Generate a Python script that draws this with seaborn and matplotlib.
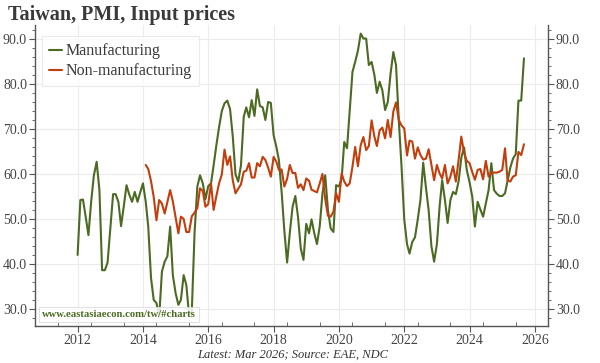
import numpy as np
import pandas as pd
import matplotlib
matplotlib.use("Agg")
import matplotlib.pyplot as plt
import matplotlib.dates as mdates
from matplotlib.ticker import MultipleLocator, FormatStrFormatter
import seaborn as sns

# --- Taiwan PMI input prices, monthly ----------------------------------------
MFG_START = "2012-01-01"
MANUFACTURING = [
    42.1, 54.3, 54.4, 50.5, 46.5, 54.0, 59.8, 62.8, 56.5, 38.7, 38.7, 40.4,  # 2012
    48.0, 55.6, 55.6, 53.9, 48.5, 53.0, 57.6, 55.5, 53.9, 56.1, 53.9, 56.0,  # 2013
    58.0, 53.9, 48.4, 37.0, 32.1, 31.4, 28.2, 38.4, 40.6, 41.8, 48.4, 37.6,  # 2014
    33.6, 31.0, 32.1, 37.6, 35.4, 28.6, 29.5, 47.0, 57.3, 59.8, 58.0, 54.5,  # 2015
    57.4, 58.0, 62.0, 66.5, 70.5, 74.1, 75.8, 76.4, 74.5, 68.5, 60.0, 58.4,  # 2016
    62.0, 72.8, 74.9, 72.7, 76.5, 73.0, 78.9, 75.2, 74.9, 72.1, 76.1, 75.9,  # 2017
    68.7, 66.1, 63.2, 56.0, 47.5, 40.4, 47.0, 52.8, 55.2, 50.5, 43.5, 41.0,  # 2018
    49.0, 46.9, 50.0, 46.9, 44.5, 48.5, 55.7, 59.8, 52.0, 48.0, 47.2, 57.6,  # 2019
    57.3, 59.1, 67.2, 65.8, 74.3, 82.8, 85.0, 87.5, 91.3, 90.2, 90.2, 84.3,  # 2020
    85.0, 82.1, 78.1, 80.6, 78.7, 74.3, 76.1, 82.4, 87.2, 84.3, 72.0, 62.0,  # 2021
    50.0, 44.5, 42.4, 45.0, 46.0, 50.0, 54.3, 62.6, 57.0, 52.0, 44.0, 40.6,  # 2022
    44.5, 53.0, 58.7, 54.3, 49.2, 54.3, 56.1, 55.6, 58.5, 63.7, 66.0, 61.0,  # 2023
    58.3, 55.0, 48.4, 53.9, 52.2, 50.6, 53.5, 56.5, 62.5, 56.5, 55.7, 55.2,  # 2024
    55.2, 55.8, 58.5, 61.5, 63.5, 64.5, 76.4, 76.4, 85.8,                    # 2025
]

NONMFG_START = "2014-02-01"
NON_MANUFACTURING = [
    62.1, 61.2, 58.5, 55.0, 49.8, 54.3, 53.5, 51.3, 53.9, 56.5, 54.0,        # 2014
    50.5, 46.9, 50.6, 50.1, 47.2, 47.2, 50.7, 51.5, 52.5, 56.9, 56.3, 52.8,  # 2015
    53.4, 58.0, 52.1, 55.2, 58.0, 60.0, 65.5, 62.1, 64.0, 58.7, 55.8, 56.8,  # 2016
    57.8, 60.6, 60.8, 62.5, 59.3, 59.3, 62.5, 61.8, 63.9, 63.2, 61.5, 59.5,  # 2017
    63.9, 62.8, 61.0, 61.1, 57.3, 59.0, 62.1, 60.3, 60.3, 57.0, 57.8, 56.5,  # 2018
    59.1, 58.6, 56.6, 56.3, 56.0, 58.0, 60.1, 54.5, 50.8, 50.6, 51.7, 55.8,  # 2019
    53.9, 60.2, 58.4, 57.4, 58.0, 61.7, 66.1, 61.8, 66.5, 68.3, 65.4, 66.3,  # 2020
    72.0, 68.4, 66.3, 69.8, 70.4, 68.0, 72.1, 68.3, 74.0, 76.0, 72.1, 70.9,  # 2021
    70.2, 64.2, 67.5, 67.3, 63.5, 66.0, 64.3, 63.3, 63.5, 65.6, 62.1, 58.7,  # 2022
    62.1, 60.2, 59.1, 62.1, 58.0, 59.5, 61.8, 58.4, 63.2, 68.4, 64.8, 63.0,  # 2023
    62.5, 60.5, 58.8, 61.0, 61.2, 58.9, 63.0, 59.5, 60.4, 60.4, 60.4, 60.6,  # 2024
    61.0, 65.8, 58.7, 58.4, 59.5, 59.8, 65.0, 64.3, 66.7,                    # 2025
]

SERIES = ["Manufacturing", "Non-manufacturing"]
COLORS = ["#4b6a22", "#c23e0c"]
TITLE = "Taiwan, PMI, Input prices"
FOOTER = "Latest: Mar 2026; Source: EAE, NDC"
WATERMARK = "www.eastasiaecon.com/tw/#charts"

mfg = pd.DataFrame({
    "date": pd.date_range(MFG_START, periods=len(MANUFACTURING), freq="MS"),
    "value": MANUFACTURING, "series": SERIES[0]})
non = pd.DataFrame({
    "date": pd.date_range(NONMFG_START, periods=len(NON_MANUFACTURING), freq="MS"),
    "value": NON_MANUFACTURING, "series": SERIES[1]})
df = pd.concat([mfg, non], ignore_index=True)

sns.set_style("white")
plt.rcParams["font.family"] = ["Liberation Serif", "DejaVu Serif"]
GREY = "#444444"

fig = plt.figure(figsize=(6, 3.63), dpi=100)
ax = fig.add_axes([0.059, 0.102, 0.8535, 0.829])

sns.lineplot(data=df, x="date", y="value", hue="series", hue_order=SERIES,
             palette=COLORS, linewidth=1.5, ax=ax, legend=True)

ax.set_xlim(pd.Timestamp("2010-09-16"), pd.Timestamp("2026-05-22"))
ax.set_ylim(26.3, 93.2)
ax.set_xlabel("")
ax.set_ylabel("")

ax.xaxis.set_major_locator(mdates.YearLocator(2))
ax.xaxis.set_major_formatter(mdates.DateFormatter("%Y"))
ax.xaxis.set_minor_locator(mdates.MonthLocator(bymonth=6))
ax.yaxis.set_major_locator(MultipleLocator(10))
ax.yaxis.set_minor_locator(MultipleLocator(2))
ax.yaxis.set_major_formatter(FormatStrFormatter("%.1f"))

ax.grid(True, which="major", color="#ebebeb", linewidth=0.8)
ax.set_axisbelow(True)
for side in ["left", "right", "bottom"]:
    ax.spines[side].set_visible(True)
    ax.spines[side].set_color("#555555")
    ax.spines[side].set_linewidth(1.0)
ax.spines["top"].set_visible(False)

ax.tick_params(axis="y", which="both", left=True, right=True,
               labelleft=True, labelright=True, direction="out",
               color="#555555", labelcolor=GREY, labelsize=10)
ax.tick_params(axis="y", which="major", length=4, pad=2)
ax.tick_params(axis="y", which="minor", length=2.5)
ax.tick_params(axis="x", which="major", bottom=True, direction="out", length=4,
               color="#555555", labelcolor=GREY, labelsize=10, pad=2)
ax.tick_params(axis="x", which="minor", bottom=True, direction="in", length=3,
               color="#555555")

leg = ax.legend(loc="upper left", bbox_to_anchor=(0.0, 0.985), fontsize=11.5,
                frameon=True, fancybox=False, handlelength=0.8,
                handletextpad=0.25, borderpad=0.45, labelspacing=0.25,
                borderaxespad=0.4)
leg.get_frame().set_edgecolor("#e6e6e6")
leg.get_frame().set_linewidth(0.8)
for t in leg.get_texts():
    t.set_color("#3a3a3a")

ax.text(0.013, 0.03, WATERMARK, transform=ax.transAxes, fontsize=7.7,
        fontweight="bold", color="#4b6a22", ha="left", va="baseline",
        bbox=dict(boxstyle="square,pad=0.3", facecolor="white", alpha=0.85,
                  edgecolor="#dddddd", linewidth=0.8), zorder=5)

fig.text(0.013, 0.986, TITLE, fontsize=14.5, fontweight="bold",
         color="#3a3a3a", ha="left", va="top")
fig.text(0.487, 0.022, FOOTER, fontsize=9, style="italic", color="#333333",
         ha="center", va="center")

fig.savefig("out.png", dpi=100)
